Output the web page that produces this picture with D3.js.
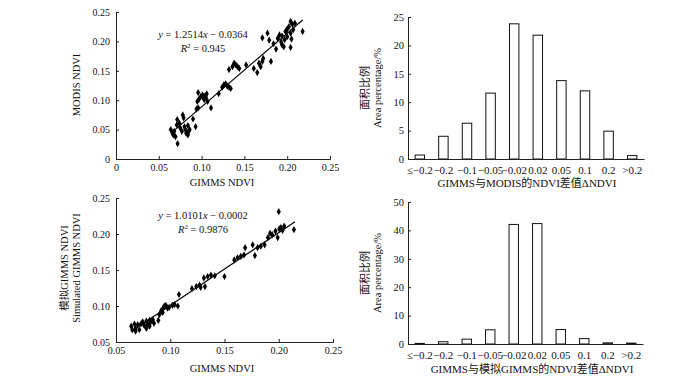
<!DOCTYPE html>
<html>
<head>
<meta charset="utf-8">
<script src="https://cdn.jsdelivr.net/npm/d3@7"></script>
<style>
  html, body { margin: 0; padding: 0; background: #fff; }
  svg text { font-family: "Liberation Serif", "Times New Roman", "Noto Sans CJK SC", serif; fill: #111; }
</style>
</head>
<body>
<svg id="chart" width="700" height="378"></svg>
<script>
// ---------------- DATA ----------------
// Panel (a): GIMMS NDVI (x) vs MODIS NDVI (y)
const gimmsA = [0.064,0.066,0.067,0.068,0.0695,0.072,0.071,0.0715,0.074,0.075,0.077,0.078,0.079,0.080,0.081,0.082,0.084,0.085,0.086,0.084,0.090,0.093,0.094,0.096,0.095,0.097,0.096,0.099,0.101,0.102,0.103,0.103,0.105,0.106,0.107,0.111,0.120,0.124,0.126,0.128,0.130,0.132,0.134,0.132,0.136,0.138,0.140,0.142,0.144,0.152,0.161,0.165,0.167,0.169,0.171,0.172,0.171,0.177,0.179,0.181,0.184,0.187,0.189,0.191,0.193,0.194,0.196,0.197,0.198,0.200,0.202,0.204,0.204,0.205,0.204,0.206,0.207,0.209,0.218,0.200,0.194];
const modisA = [0.050,0.044,0.041,0.047,0.038,0.026,0.058,0.067,0.061,0.053,0.047,0.075,0.070,0.055,0.050,0.044,0.041,0.047,0.050,0.057,0.068,0.055,0.085,0.087,0.098,0.102,0.113,0.106,0.109,0.104,0.107,0.101,0.105,0.111,0.098,0.087,0.111,0.122,0.126,0.128,0.124,0.122,0.120,0.152,0.157,0.163,0.160,0.157,0.154,0.160,0.154,0.147,0.163,0.157,0.166,0.171,0.206,0.214,0.202,0.166,0.196,0.187,0.205,0.211,0.199,0.194,0.191,0.203,0.217,0.221,0.225,0.234,0.214,0.204,0.190,0.229,0.220,0.231,0.217,0.208,0.209];
const fitA = [1.2514, -0.0364];      // slope, intercept
const fitRangeA = [0.066, 0.218];
const r2A = "0.945";

// Panel (b): GIMMS NDVI (x) vs simulated GIMMS NDVI (y)
const gimmsB = [0.064,0.065,0.067,0.068,0.070,0.0715,0.073,0.0745,0.076,0.078,0.079,0.081,0.082,0.084,0.085,0.089,0.078,0.090,0.0915,0.093,0.0945,0.096,0.0975,0.099,0.102,0.104,0.107,0.108,0.120,0.124,0.127,0.128,0.132,0.131,0.1345,0.1375,0.141,0.150,0.159,0.162,0.165,0.168,0.169,0.176,0.178,0.1805,0.1835,0.187,0.190,0.192,0.194,0.197,0.199,0.200,0.2005,0.202,0.2035,0.205,0.214,0.093,0.081,0.068];
const simB   = [0.072,0.067,0.075,0.069,0.074,0.067,0.075,0.078,0.073,0.079,0.075,0.080,0.078,0.081,0.076,0.080,0.069,0.088,0.093,0.096,0.100,0.101,0.097,0.098,0.101,0.102,0.100,0.116,0.124,0.127,0.129,0.126,0.127,0.139,0.141,0.143,0.142,0.141,0.164,0.167,0.169,0.171,0.181,0.185,0.170,0.181,0.183,0.185,0.195,0.201,0.199,0.204,0.195,0.231,0.207,0.209,0.205,0.211,0.206,0.091,0.072,0.065];
const fitB = [1.0101, -0.0002];
const fitRangeB = [0.064, 0.215];
const r2B = "0.9876";

// Histograms
const diffCats = ["≤−0.2","−0.2","−0.1","−0.05","−0.02","0.02","0.05","0.1","0.2",">0.2"];
const pctModis = [0.7, 4.0, 6.3, 11.6, 23.8, 21.8, 13.8, 12.0, 4.9, 0.6];
const pctSim   = [0.2, 0.8, 1.7, 5.0, 42.1, 42.4, 5.1, 1.9, 0.4, 0.3];

// Tick labels
const ticksA = [0, 0.05, 0.10, 0.15, 0.20, 0.25];
const ticksB = [0.05, 0.10, 0.15, 0.20, 0.25];
const ticksHistA = [0, 5, 10, 15, 20, 25];
const ticksHistB = [0, 10, 20, 30, 40, 50];

// ---------------- DRAW ----------------
const svg = d3.select("#chart");
const fmt = v => v === 0 ? "0" : d3.format(".2f")(v);
const TICK_FS = 10;

function styleAxis(g, fs) {
  g.selectAll("path.domain").attr("stroke", "#222").attr("stroke-width", 1);
  g.selectAll(".tick line").attr("stroke", "#222");
  g.selectAll("text").attr("font-size", fs || TICK_FS).attr("fill", "#111")
    .style("font-family", '"Liberation Serif","Times New Roman",serif');
}

function scatter(opts) {
  const {xs, ys, xDom, xRange, yDom, yRange, xTicks, yTicks, fit, fitRange, r2, eqPos} = opts;
  const x = d3.scaleLinear().domain(xDom).range(xRange);
  const y = d3.scaleLinear().domain(yDom).range(yRange);
  const gx = svg.append("g").attr("transform", `translate(0,${yRange[0]})`)
    .call(d3.axisBottom(x).tickValues(xTicks).tickFormat(fmt).tickSizeInner(-3).tickSizeOuter(-3).tickPadding(5));
  styleAxis(gx);
  const gy = svg.append("g").attr("transform", `translate(${xRange[0]},0)`)
    .call(d3.axisLeft(y).tickValues(yTicks).tickFormat(fmt).tickSizeInner(-3).tickSizeOuter(-3).tickPadding(6));
  styleAxis(gy);
  // points
  const sym = d3.symbol().type(d3.symbolDiamond).size(15);
  svg.append("g").selectAll("path").data(xs.map((v, i) => [v, ys[i]])).join("path")
    .attr("d", sym).attr("fill", "#000")
    .attr("transform", d => `translate(${x(d[0])},${y(d[1])})`);
  // fit line
  const f = v => fit[0] * v + fit[1];
  svg.append("line")
    .attr("x1", x(fitRange[0])).attr("y1", y(f(fitRange[0])))
    .attr("x2", x(fitRange[1])).attr("y2", y(f(fitRange[1])))
    .attr("stroke", "#000").attr("stroke-width", 1.2);
  // equation
  const eq = svg.append("text").attr("x", eqPos[0]).attr("y", eqPos[1])
    .attr("text-anchor", "middle").attr("font-size", 10.5);
  eq.append("tspan").attr("font-style", "italic").text("y");
  eq.append("tspan").text(` = ${fit[0].toFixed(4)}`);
  eq.append("tspan").attr("font-style", "italic").text("x");
  eq.append("tspan").text(` − ${Math.abs(fit[1]).toFixed(4)}`);
  const rt = svg.append("text").attr("x", eqPos[0]).attr("y", eqPos[1] + 14)
    .attr("text-anchor", "middle").attr("font-size", 10.5);
  rt.append("tspan").attr("font-style", "italic").text("R");
  rt.append("tspan").attr("font-size", 7).attr("dy", -4).text("2");
  rt.append("tspan").attr("dy", 4).text(` = ${r2}`);
  return {x, y};
}

function hist(opts) {
  const {vals, xRange, yDom, yRange, yTicks} = opts;
  const x = d3.scaleBand().domain(diffCats).range(xRange).paddingInner(0.6).paddingOuter(0.3);
  const y = d3.scaleLinear().domain(yDom).range(yRange);
  svg.append("g").selectAll("rect").data(vals).join("rect")
    .attr("x", (d, i) => x(diffCats[i]))
    .attr("y", d => y(d))
    .attr("width", x.bandwidth())
    .attr("height", d => y(0) - y(d))
    .attr("fill", "#fff").attr("stroke", "#111").attr("stroke-width", 1);
  const gx = svg.append("g").attr("transform", `translate(0,${yRange[0]})`)
    .call(d3.axisBottom(x).tickSize(0).tickPadding(7));
  styleAxis(gx, 11);
  const gy = svg.append("g").attr("transform", `translate(${xRange[0]},0)`)
    .call(d3.axisLeft(y).tickValues(yTicks).tickSizeInner(-3).tickSizeOuter(-3).tickPadding(4));
  styleAxis(gy, 10.5);
  return {x, y};
}

// Panel a
scatter({xs: gimmsA, ys: modisA, xDom: [0, 0.25], xRange: [116, 330], yDom: [0, 0.25], yRange: [159, 12],
  xTicks: ticksA, yTicks: ticksA, fit: fitA, fitRange: fitRangeA, r2: r2A, eqPos: [203, 38]});
svg.append("text").attr("x", 222).attr("y", 186).attr("text-anchor", "middle").attr("font-size", 10.5).text("GIMMS NDVI");
svg.append("text").attr("transform", "translate(80,85) rotate(-90)").attr("text-anchor", "middle").attr("font-size", 10.5).text("MODIS NDVI");

// Panel b
scatter({xs: gimmsB, ys: simB, xDom: [0.05, 0.25], xRange: [116, 333], yDom: [0.05, 0.25], yRange: [342, 198],
  xTicks: ticksB, yTicks: ticksB, fit: fitB, fitRange: fitRangeB, r2: r2B, eqPos: [203, 219]});
svg.append("text").attr("x", 222).attr("y", 372).attr("text-anchor", "middle").attr("font-size", 10.5).text("GIMMS NDVI");
svg.append("text").attr("transform", "translate(68,268) rotate(-90)").attr("text-anchor", "middle").attr("font-size", 10.5)
  .style("font-family", '"Liberation Serif","Noto Sans CJK SC",serif').text("模拟GIMMS NDVI");
svg.append("text").attr("transform", "translate(80,268) rotate(-90)").attr("text-anchor", "middle").attr("font-size", 10.5).text("Simulated GIMMS NDVI");

// Panel c
hist({vals: pctModis, xRange: [408, 644], yDom: [0, 25], yRange: [159, 17], yTicks: ticksHistA});
svg.append("text").attr("x", 527).attr("y", 187).attr("text-anchor", "middle").attr("font-size", 11)
  .style("font-family", '"Liberation Serif","Noto Sans CJK SC",serif').text("GIMMS与MODIS的NDVI差值ΔNDVI");
svg.append("text").attr("transform", "translate(369,88) rotate(-90)").attr("text-anchor", "middle").attr("font-size", 11)
  .style("font-family", '"Noto Sans CJK SC",serif').text("面积比例");
svg.append("text").attr("transform", "translate(381,88) rotate(-90)").attr("text-anchor", "middle").attr("font-size", 10.5).text("Area percentage/%");

// Panel d
hist({vals: pctSim, xRange: [408, 643], yDom: [0, 50], yRange: [344, 202], yTicks: ticksHistB});
svg.append("text").attr("x", 532).attr("y", 373).attr("text-anchor", "middle").attr("font-size", 11)
  .style("font-family", '"Liberation Serif","Noto Sans CJK SC",serif').text("GIMMS与模拟GIMMS的NDVI差值ΔNDVI");
svg.append("text").attr("transform", "translate(369,273) rotate(-90)").attr("text-anchor", "middle").attr("font-size", 11)
  .style("font-family", '"Noto Sans CJK SC",serif').text("面积比例");
svg.append("text").attr("transform", "translate(381,273) rotate(-90)").attr("text-anchor", "middle").attr("font-size", 10.5).text("Area percentage/%");
</script>
</body>
</html>
